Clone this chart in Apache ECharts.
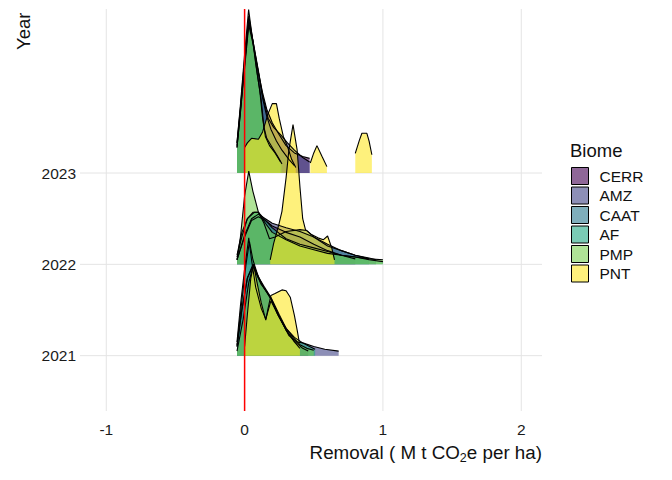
<!DOCTYPE html>
<html>
<head>
<meta charset="utf-8">
<script src="https://cdn.jsdelivr.net/npm/echarts@6/dist/echarts.min.js"></script>
<style>
  html, body { margin: 0; padding: 0; background: #fff; }
  #chart { width: 672px; height: 480px; }
</style>
</head>
<body>
<div id="chart"></div>
<script>
// ─── data: [removal, ridge height in row units] ───
const years = ['2021', '2022', '2023'];
const biomes = ['CERR', 'AMZ', 'CAAT', 'AF', 'PMP', 'PNT'];
const xTicks = [-1, 0, 1, 2];

// 2021
const CERR_2021 = [[-0.055,0.1],[-0.02,0.5],[0.02,0.85],[0.06,1.0],[0.09,0.9],[0.12,0.8],[0.15,0.72],[0.19,0.63],[0.24,0.45],[0.3,0.28],[0.36,0.16],[0.42,0.08],[0.46,0.05]];
const AMZ_2021 = [[-0.055,0.1],[-0.02,0.5],[0.02,0.85],[0.06,0.98],[0.09,0.88],[0.12,0.78],[0.16,0.7],[0.2,0.6],[0.26,0.4],[0.32,0.22],[0.38,0.15],[0.42,0.14],[0.5,0.1],[0.58,0.07],[0.68,0.05]];
const CAAT_2021 = [[-0.055,0.15],[-0.03,0.55],[0.0,0.95],[0.03,1.29],[0.05,1.05],[0.08,0.75],[0.12,0.52],[0.153,0.4],[0.19,0.6],[0.25,0.42],[0.3,0.28],[0.36,0.15],[0.4,0.08]];
const AF_2021 = [[-0.055,0.12],[-0.02,0.6],[0.01,1.0],[0.035,1.25],[0.06,1.05],[0.1,0.86],[0.14,0.76],[0.19,0.64],[0.25,0.45],[0.3,0.3],[0.36,0.2],[0.42,0.14],[0.47,0.1],[0.51,0.07]];
const PMP_2021 = [[-0.055,0.05],[-0.01,0.4],[0.03,0.8],[0.065,1.0],[0.1,0.85],[0.14,0.74],[0.19,0.62],[0.24,0.45],[0.3,0.3],[0.35,0.2],[0.4,0.12],[0.45,0.08],[0.5,0.06]];
const PNT_2021 = [[0.0,0.1],[0.02,0.45],[0.045,0.85],[0.065,1.0],[0.09,0.8],[0.12,0.58],[0.153,0.39],[0.17,0.52],[0.19,0.66],[0.22,0.68],[0.27,0.72],[0.3,0.71],[0.33,0.64],[0.36,0.44],[0.38,0.28],[0.395,0.15],[0.4,0.14]];

// 2022
const CERR_2022 = [[-0.055,0.05],[0.0,0.3],[0.05,0.48],[0.1,0.52],[0.15,0.48],[0.2,0.42],[0.3,0.35],[0.4,0.3],[0.5,0.22],[0.6,0.15],[0.7,0.1],[0.8,0.06]];
const AMZ_2022 = [[-0.055,0.05],[0.0,0.32],[0.05,0.5],[0.1,0.55],[0.15,0.5],[0.2,0.45],[0.3,0.4],[0.4,0.36],[0.5,0.3],[0.6,0.22],[0.7,0.15],[0.8,0.1],[0.9,0.07],[0.95,0.05]];
const CAAT_2022 = [[-0.055,0.08],[-0.02,0.3],[0.02,0.5],[0.07,0.57],[0.1,0.57],[0.14,0.45],[0.18,0.28],[0.22,0.3],[0.3,0.36],[0.4,0.38],[0.45,0.37],[0.5,0.3],[0.6,0.2],[0.7,0.15],[0.8,0.1],[0.9,0.06]];
const AF_2022 = [[-0.055,0.1],[-0.02,0.35],[0.02,0.5],[0.06,0.57],[0.1,0.57],[0.14,0.5],[0.2,0.4],[0.3,0.28],[0.4,0.22],[0.5,0.18],[0.6,0.14],[0.7,0.1],[0.8,0.08],[0.9,0.05],[1.0,0.03]];
const PMP_2022 = [[-0.055,0.05],[-0.03,0.3],[0.0,0.75],[0.03,1.02],[0.06,0.8],[0.1,0.57],[0.15,0.45],[0.2,0.35],[0.3,0.27],[0.4,0.2],[0.5,0.16],[0.6,0.12],[0.7,0.1],[0.8,0.08],[0.9,0.06],[1.0,0.05]];
const PNT_2022 = [[0.185,0.05],[0.21,0.23],[0.25,0.45],[0.27,0.58],[0.3,0.95],[0.32,1.25],[0.35,1.53],[0.38,1.25],[0.4,0.85],[0.42,0.5],[0.44,0.38],[0.48,0.33],[0.53,0.29],[0.57,0.27],[0.6,0.31],[0.63,0.18],[0.65,0.05]];

// 2023 (null = tail cut off)
const CERR_2023 = [[-0.055,0.28],[-0.03,0.66],[0.0,1.15],[0.03,1.62],[0.06,1.42],[0.1,1.1],[0.13,0.88],[0.16,0.7],[0.2,0.55],[0.25,0.42],[0.3,0.3],[0.36,0.22],[0.42,0.18],[0.47,0.16]];
const AMZ_2023 = [[-0.055,0.28],[-0.03,0.68],[0.0,1.18],[0.03,1.65],[0.06,1.45],[0.1,1.12],[0.13,0.85],[0.17,0.6],[0.21,0.5],[0.26,0.42],[0.31,0.33],[0.36,0.25],[0.42,0.17],[0.47,0.12]];
const CAAT_2023 = [[-0.055,0.3],[-0.03,0.7],[0.0,1.2],[0.03,1.68],[0.06,1.45],[0.1,1.1],[0.13,0.82],[0.16,0.62],[0.19,0.48],[0.23,0.35],[0.27,0.25],[0.32,0.15],[0.36,0.08]];
const AF_2023 = [[-0.055,0.33],[-0.03,0.72],[0.0,1.25],[0.03,1.72],[0.06,1.45],[0.09,1.1],[0.12,0.8],[0.14,0.5],[0.16,0.38],[0.2,0.28],[0.24,0.18],[0.27,0.1]];
const PMP_2023 = [[-0.055,0.33],[-0.03,0.75],[0.0,1.3],[0.029,1.79],[0.05,1.55],[0.08,1.2],[0.11,0.9],[0.13,0.6],[0.15,0.4],[0.18,0.3],[0.22,0.22],[0.26,0.12]];
const PNT_2023 = [[0.0,0.28],[0.02,0.33],[0.05,0.38],[0.1,0.37],[0.13,0.45],[0.17,0.65],[0.2,0.76],[0.23,0.76],[0.25,0.6],[0.28,0.4],[0.31,0.29],[0.34,0.15],[0.37,0.06],
  null, [0.475,0.11],[0.5,0.22],[0.523,0.3],[0.56,0.18],[0.595,0.07],
  null, [0.8,0.215],[0.83,0.36],[0.848,0.435],[0.884,0.435],[0.9,0.35],[0.92,0.2]];

const ridges = {
  '2021': [CERR_2021, AMZ_2021, CAAT_2021, AF_2021, PMP_2021, PNT_2021],
  '2022': [CERR_2022, AMZ_2022, CAAT_2022, AF_2022, PMP_2022, PNT_2022],
  '2023': [CERR_2023, AMZ_2023, CAAT_2023, AF_2023, PMP_2023, PNT_2023]
};

// viridis(6), alpha 0.6
const fills = ['rgba(68,1,84,0.6)', 'rgba(65,68,135,0.6)', 'rgba(42,120,142,0.6)',
               'rgba(34,168,132,0.6)', 'rgba(122,209,81,0.6)', 'rgba(253,231,37,0.6)'];

const X_MIN = -1.19, X_MAX = 2.15;
const Y_MIN = 0.394, Y_MAX = 4.796;
const FONT = 'Liberation Sans, Arial, sans-serif';

const chart = echarts.init(document.getElementById('chart'), null, { renderer: 'svg' });

// gridlines as plain line segments
const vGrid = [];
xTicks.forEach(t => { vGrid.push([t, Y_MIN], [t, Y_MAX], [null, null]); });
const hGrid = [];
years.forEach((y, i) => { hGrid.push([X_MIN, i + 1], [X_MAX, i + 1], [null, null]); });

const series = [{
  type: 'line', name: '_grid', silent: true, symbol: 'none', connectNulls: false,
  data: vGrid.concat(hGrid),
  lineStyle: { color: '#e4e4e4', width: 1 }, z: 1
}];

// top row first so lower rows overlap upper ones
for (let yi = years.length - 1; yi >= 0; yi--) {
  const base = yi + 1;
  ridges[years[yi]].forEach((pts, bi) => {
    series.push({
      type: 'line',
      name: biomes[bi],
      symbol: 'none',
      silent: true,
      connectNulls: false,
      data: pts.map(p => p ? [p[0], base + p[1]] : [null, null]),
      color: fills[bi],
      lineStyle: { color: '#000', width: 1.1 },
      areaStyle: { color: fills[bi], opacity: 1, origin: base },
      z: 2
    });
  });
}

series.push({
  type: 'line', name: '_zero', silent: true, symbol: 'none',
  data: [[0, Y_MIN], [0, Y_MAX]],
  lineStyle: { color: '#ff0000', width: 1.5 }, z: 5
});

chart.setOption({
  animation: false,
  backgroundColor: '#fff',
  grid: { left: 80, right: 130, top: 9, bottom: 69 },
  xAxis: {
    type: 'value', min: X_MIN, max: X_MAX,
    axisLine: { show: false }, axisTick: { show: false }, splitLine: { show: false },
    axisLabel: { customValues: xTicks, fontSize: 15.5, color: '#1a1a1a', fontFamily: FONT, margin: 10 }
  },
  yAxis: {
    type: 'value', min: Y_MIN, max: Y_MAX,
    axisLine: { show: false }, axisTick: { show: false }, splitLine: { show: false },
    axisLabel: {
      customValues: [1, 2, 3], fontSize: 15.5, color: '#1a1a1a', fontFamily: FONT, margin: 4,
      formatter: v => years[Math.round(v) - 1] || ''
    }
  },
  legend: {
    orient: 'vertical', left: 571, top: 167, padding: 0,
    itemWidth: 17, itemHeight: 17, itemGap: 1.5,
    icon: 'rect', selectedMode: false,
    textStyle: { fontSize: 15.5, color: '#111', fontFamily: FONT, padding: [0, 0, 0, 6] },
    data: biomes.map((b, i) => ({
      name: b, icon: 'rect',
      itemStyle: { color: fills[i], borderColor: '#000', borderWidth: 1 }
    }))
  },
  graphic: [
    { type: 'text', left: 570, top: 141,
      style: { text: 'Biome', fontSize: 18.5, fill: '#111', fontFamily: FONT } },
    { type: 'text', x: 14, y: 50, rotation: Math.PI / 2,
      style: { text: 'Year', fontSize: 18.5, fill: '#111', fontFamily: FONT } },
    { type: 'text', right: 130, top: 443,
      style: {
        text: '{a|Removal ( M t CO}{s|2}{a|e per ha)}',
        fontFamily: FONT,
        rich: {
          a: { fontSize: 18.8, fill: '#111', fontFamily: FONT },
          s: { fontSize: 12.5, fill: '#111', fontFamily: FONT, padding: [10, 0, 0, 0] }
        }
      } }
  ],
  series: series
});
</script>
</body>
</html>
